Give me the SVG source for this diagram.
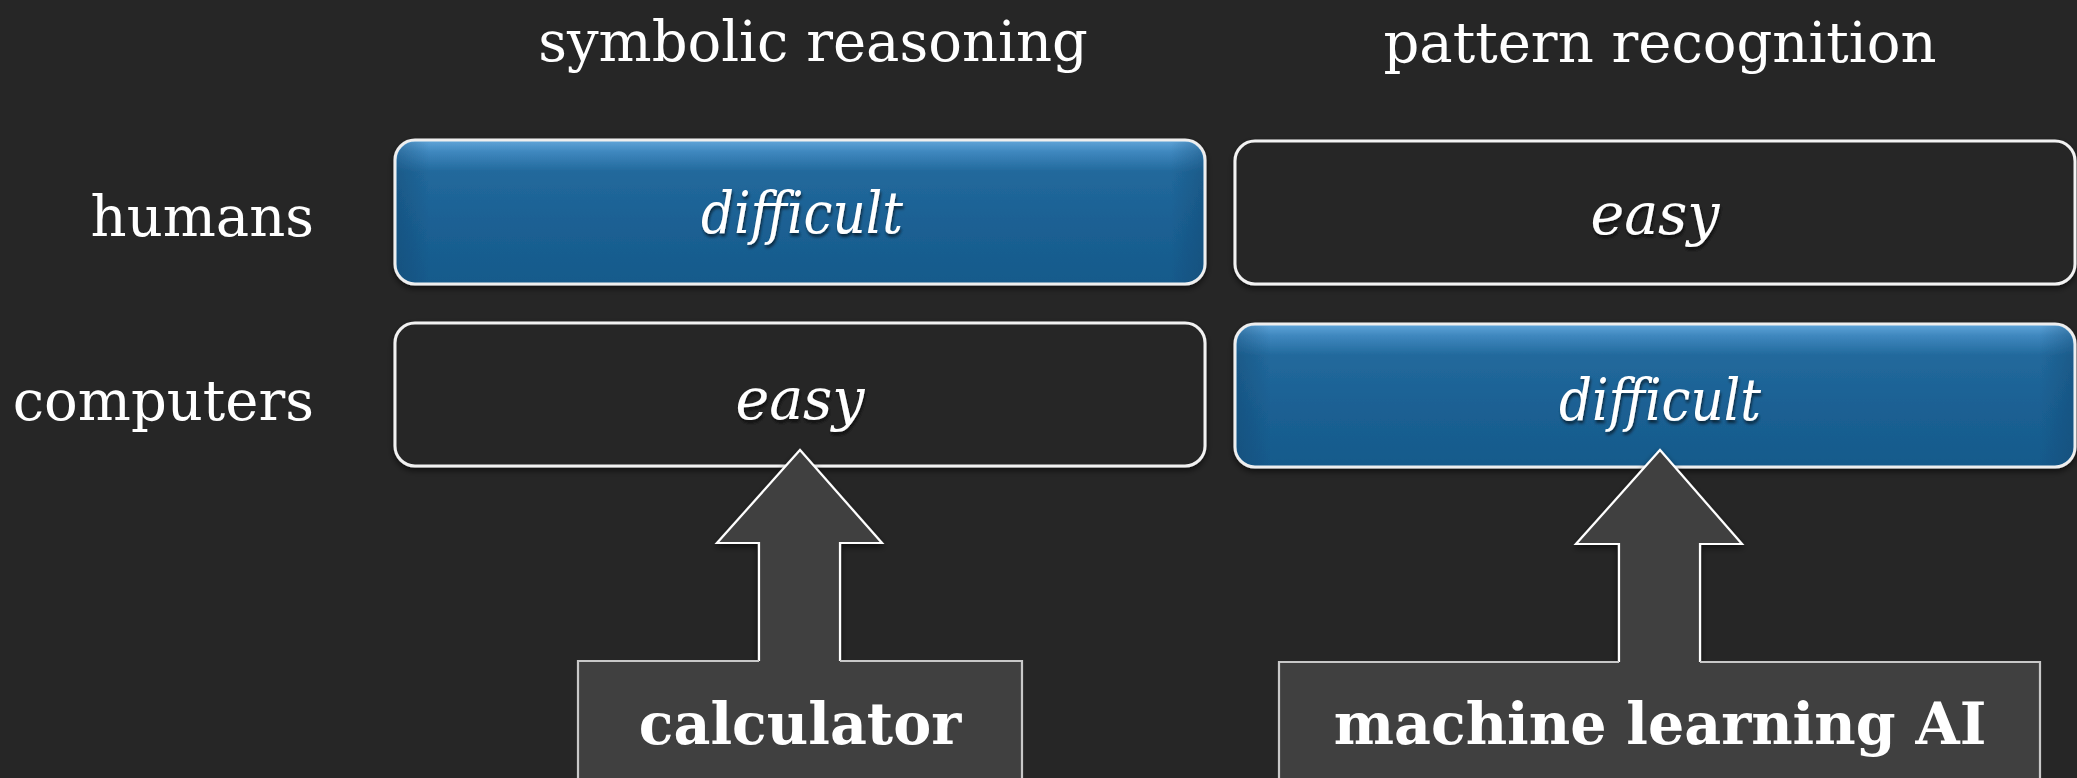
<svg xmlns="http://www.w3.org/2000/svg" width="2077" height="778" viewBox="0 0 2077 778">
  <defs>
    <linearGradient id="blueFill" x1="0" y1="0" x2="0" y2="1">
      <stop offset="0" stop-color="#62a6da"/>
      <stop offset="0.08" stop-color="#3f88bf"/>
      <stop offset="0.22" stop-color="#22699c"/>
      <stop offset="0.6" stop-color="#1b6093"/>
      <stop offset="1" stop-color="#155a8b"/>
    </linearGradient>
    <linearGradient id="sideShade" x1="0" y1="0" x2="1" y2="0">
      <stop offset="0" stop-color="#0d3f66" stop-opacity="0.35"/>
      <stop offset="0.04" stop-color="#0d3f66" stop-opacity="0"/>
      <stop offset="0.96" stop-color="#0d3f66" stop-opacity="0"/>
      <stop offset="1" stop-color="#0d3f66" stop-opacity="0.35"/>
    </linearGradient>
    <filter id="boxShadow" x="-5%" y="-20%" width="110%" height="140%">
      <feGaussianBlur in="SourceAlpha" stdDeviation="3"/>
      <feOffset dx="0" dy="3" result="b"/>
      <feComponentTransfer><feFuncA type="linear" slope="0.6"/></feComponentTransfer>
      <feMerge><feMergeNode/><feMergeNode in="SourceGraphic"/></feMerge>
    </filter>
    <filter id="textShadow" x="-10%" y="-20%" width="120%" height="150%">
      <feGaussianBlur in="SourceAlpha" stdDeviation="1.5"/>
      <feOffset dx="1" dy="3" result="b"/>
      <feComponentTransfer><feFuncA type="linear" slope="0.6"/></feComponentTransfer>
      <feMerge><feMergeNode/><feMergeNode in="SourceGraphic"/></feMerge>
    </filter>
  </defs>
  <style>
    .bg { fill: #262626; }
    .head { font-family: "DejaVu Serif", "Liberation Serif", serif; font-size: 56px; fill: #ffffff; }
    .cell { font-family: "DejaVu Serif", "Liberation Serif", serif; font-size: 57px; font-style: italic; fill: #ffffff; }
    .tool { font-family: "DejaVu Serif", "Liberation Serif", serif; font-size: 57px; font-weight: bold; fill: #ffffff; }
    .blue { fill: url(#blueFill); stroke: #eeeeee; stroke-width: 3; }
    .dark { fill: #262626; stroke: #f2f2f2; stroke-width: 3; }
    .shade { fill: url(#sideShade); stroke: none; }
    .arrow { fill: #404040; stroke: #ffffff; stroke-width: 2.2; stroke-linejoin: miter; }
    .toolFill { fill: #404040; stroke: none; }
    .toolEdge { fill: none; stroke: #c8c8c8; stroke-width: 2.2; }
  </style>

  <rect class="bg" x="0" y="0" width="2077" height="778"/>

  <g id="col-symbolic">
    <text class="head" x="813" y="61" text-anchor="middle">symbolic reasoning</text>
  </g>
  <g id="col-pattern">
    <text class="head" x="1660" y="62" text-anchor="middle">pattern recognition</text>
  </g>
  <g id="row-humans">
    <text class="head" x="314" y="236" text-anchor="end">humans</text>
  </g>
  <g id="row-computers">
    <text class="head" x="314" y="420" text-anchor="end">computers</text>
  </g>

  <g id="humans-symbolic" filter="url(#boxShadow)">
    <rect class="blue" x="395" y="140" width="810" height="144" rx="20"/>
    <rect class="shade" x="397" y="142" width="806" height="140" rx="18"/>
    <text class="cell" x="802" y="233" text-anchor="middle" textLength="202" lengthAdjust="spacingAndGlyphs" filter="url(#textShadow)">difficult</text>
  </g>
  <g id="humans-pattern" filter="url(#boxShadow)">
    <rect class="dark" x="1235" y="141" width="840" height="143" rx="20"/>
    <text class="cell" x="1655" y="234" text-anchor="middle" filter="url(#textShadow)">easy</text>
  </g>
  <g id="computers-symbolic" filter="url(#boxShadow)">
    <rect class="dark" x="395" y="323" width="810" height="143" rx="20"/>
    <text class="cell" x="800" y="419" text-anchor="middle" filter="url(#textShadow)">easy</text>
  </g>
  <g id="computers-pattern" filter="url(#boxShadow)">
    <rect class="blue" x="1235" y="324" width="840" height="143" rx="20"/>
    <rect class="shade" x="1237" y="326" width="836" height="139" rx="18"/>
    <text class="cell" x="1660" y="420" text-anchor="middle" textLength="202" lengthAdjust="spacingAndGlyphs" filter="url(#textShadow)">difficult</text>
  </g>

  <g id="connectors" filter="url(#boxShadow)">
    <path class="arrow" d="M759,668 L759,543 L717,543 L800,450 L882,543 L840,543 L840,668"/>
    <path class="arrow" d="M1619,668 L1619,544 L1576,544 L1660,450 L1742,544 L1700,544 L1700,668"/>
  </g>

  <g id="calculator">
    <rect class="toolFill" x="578" y="661" width="444" height="140"/>
    <polyline class="toolEdge" points="759,661 578,661 578,801 1022,801 1022,661 840,661"/>
    <text class="tool" x="800" y="744" text-anchor="middle">calculator</text>
  </g>
  <g id="machine-learning-ai">
    <rect class="toolFill" x="1279" y="662" width="761" height="140"/>
    <polyline class="toolEdge" points="1619,662 1279,662 1279,802 2040,802 2040,662 1700,662"/>
    <text class="tool" x="1660" y="744" text-anchor="middle">machine learning AI</text>
  </g>
</svg>
